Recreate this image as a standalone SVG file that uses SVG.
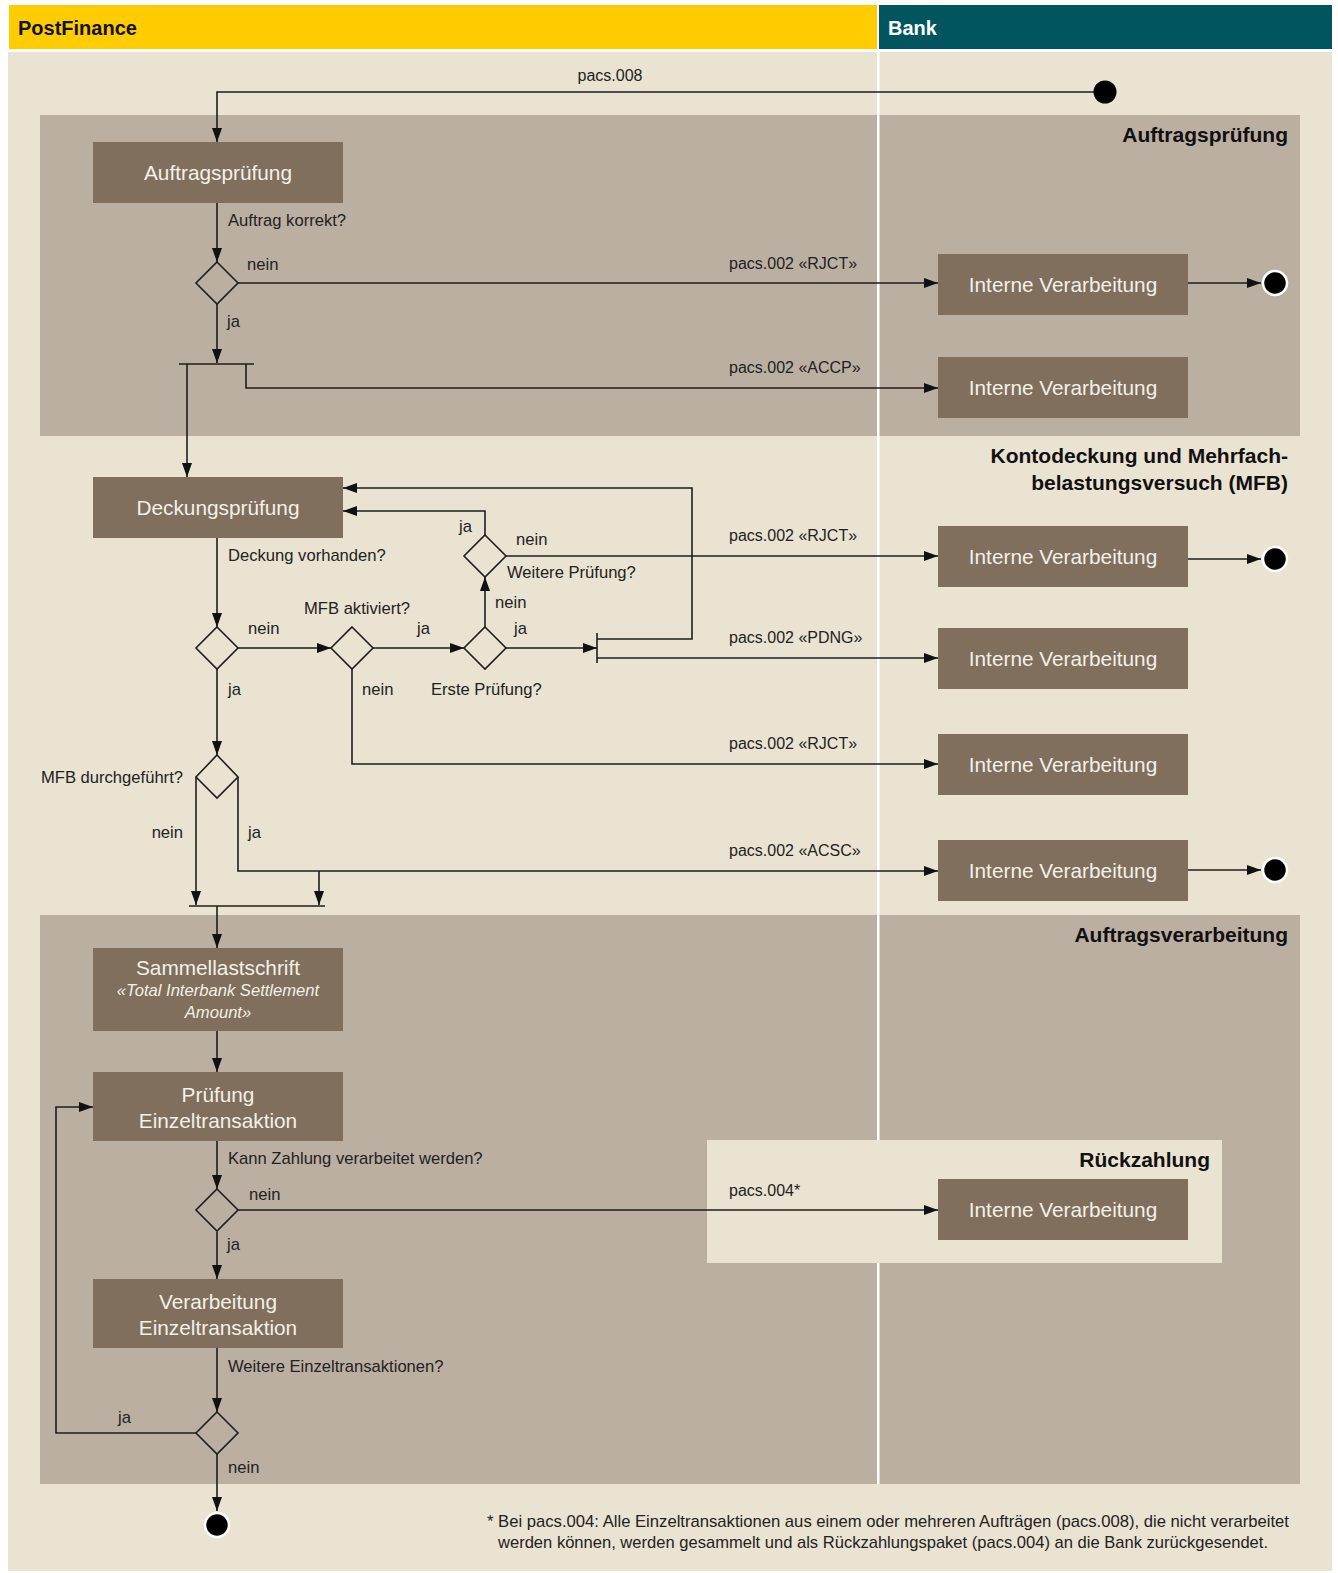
<svg xmlns="http://www.w3.org/2000/svg" width="1338" height="1573" viewBox="0 0 1338 1573">
<style>
text{font-family:"Liberation Sans",Arial,sans-serif}
.lbl{font-size:16.6px;fill:#222}
.pl{font-size:16px;fill:#222}
.box{fill:#7f6f5c}
.bt{font-size:20.8px;fill:#f4f0e8;text-anchor:middle}
.bi{font-size:16.6px;fill:#f4f0e8;text-anchor:middle;font-style:italic}
.ttl{font-weight:bold;font-size:21px;text-anchor:end;fill:#111}
.ln{fill:none;stroke:#1e1e1e;stroke-width:1.6}
.ar{marker-end:url(#ah)}
.dia{fill:none;stroke:#1e1e1e;stroke-width:1.6}
.end{fill:#000;stroke:#fff;stroke-width:2.5}
</style>
<defs>
<marker id="ah" markerWidth="14" markerHeight="10" refX="14" refY="5" orient="auto" markerUnits="userSpaceOnUse"><path d="M0,0L14,5L0,10z" fill="#111"/></marker>
</defs>
<rect x="0" y="0" width="1338" height="1573" fill="#fff"/>
<rect x="8" y="52" width="1324" height="1519" fill="#eae3d1"/>
<rect x="9" y="5" width="868" height="44" fill="#ffcc00"/>
<rect x="879" y="5" width="453" height="44" fill="#00555f"/>
<text x="18" y="35" font-size="20" font-weight="bold" fill="#111">PostFinance</text>
<text x="888" y="35" font-size="20" font-weight="bold" fill="#fff">Bank</text>
<rect x="40" y="115" width="1260" height="321" fill="#bbafa1"/>
<rect x="40" y="915" width="1260" height="569" fill="#bbafa1"/>
<rect x="877" y="49" width="2.5" height="1435" fill="#fff"/>
<rect x="707" y="1140" width="515" height="123" fill="#eae3d1"/>
<text class="ttl" x="1288" y="142">Auftragsprüfung</text>
<text class="ttl" x="1288" y="463">Kontodeckung und Mehrfach-</text>
<text class="ttl" x="1288" y="490">belastungsversuch (MFB)</text>
<text class="ttl" x="1288" y="942">Auftragsverarbeitung</text>
<text class="ttl" x="1210" y="1167">Rückzahlung</text>

<g id="connectors">
<path class="ln ar" d="M1105,92H217V142"/>
<path class="ln ar" d="M217,203V262"/>
<path class="ln ar" d="M238,283H938"/>
<path class="ln ar" d="M1188,283H1261"/>
<path class="ln ar" d="M217,304V363"/>
<path class="ln" d="M179,364H254"/>
<path class="ln ar" d="M187,364V477"/>
<path class="ln ar" d="M246,364V388H938"/>
<path class="ln ar" d="M217,538V627"/>
<path class="ln ar" d="M238,648H331"/>
<path class="ln ar" d="M373,648H464"/>
<path class="ln ar" d="M506,648H597"/>
<path class="ln" d="M597,633V663"/>
<path class="ln ar" d="M597,639H692V488H343"/>
<path class="ln ar" d="M597,658H938"/>
<path class="ln ar" d="M485,627V577"/>
<path class="ln ar" d="M485,535V511H343"/>
<path class="ln ar" d="M506,556H938"/>
<path class="ln ar" d="M1188,559H1261"/>
<path class="ln ar" d="M352,669V764H938"/>
<path class="ln ar" d="M217,669V755"/>
<path class="ln ar" d="M196,777V905"/>
<path class="ln ar" d="M238,777V871H938"/>
<path class="ln ar" d="M319,871V905"/>
<path class="ln" d="M189,906H325"/>
<path class="ln ar" d="M217,906V948"/>
<path class="ln ar" d="M1188,870H1261"/>
<path class="ln ar" d="M217,1031V1072"/>
<path class="ln ar" d="M217,1141V1189"/>
<path class="ln ar" d="M238,1210H938"/>
<path class="ln ar" d="M217,1232V1279"/>
<path class="ln ar" d="M217,1348V1412"/>
<path class="ln ar" d="M196,1433H56V1107H93"/>
<path class="ln ar" d="M217,1454V1511"/>
</g>

<g id="labels">
<text class="pl" x="610" y="81" text-anchor="middle">pacs.008</text>
<text class="lbl" x="228" y="226">Auftrag korrekt?</text>
<text class="lbl" x="247" y="270">nein</text>
<text class="lbl" x="227" y="327">ja</text>
<text class="pl" x="729" y="269">pacs.002 «RJCT»</text>
<text class="pl" x="729" y="373">pacs.002 «ACCP»</text>
<text class="lbl" x="228" y="561">Deckung vorhanden?</text>
<text class="lbl" x="459" y="532">ja</text>
<text class="lbl" x="516" y="545">nein</text>
<text class="lbl" x="507" y="578">Weitere Prüfung?</text>
<text class="pl" x="729" y="541">pacs.002 «RJCT»</text>
<text class="lbl" x="495" y="608">nein</text>
<text class="lbl" x="304" y="614">MFB aktiviert?</text>
<text class="lbl" x="248" y="634">nein</text>
<text class="lbl" x="417" y="634">ja</text>
<text class="lbl" x="514" y="634">ja</text>
<text class="pl" x="729" y="643">pacs.002 «PDNG»</text>
<text class="lbl" x="228" y="695">ja</text>
<text class="lbl" x="362" y="695">nein</text>
<text class="lbl" x="431" y="695">Erste Prüfung?</text>
<text class="pl" x="729" y="749">pacs.002 «RJCT»</text>
<text class="lbl" x="183" y="783" text-anchor="end">MFB durchgeführt?</text>
<text class="lbl" x="183" y="838" text-anchor="end">nein</text>
<text class="lbl" x="248" y="838">ja</text>
<text class="pl" x="729" y="856">pacs.002 «ACSC»</text>
<text class="lbl" x="228" y="1164">Kann Zahlung verarbeitet werden?</text>
<text class="lbl" x="249" y="1200">nein</text>
<text class="pl" x="729" y="1196">pacs.004*</text>
<text class="lbl" x="227" y="1250">ja</text>
<text class="lbl" x="228" y="1372">Weitere Einzeltransaktionen?</text>
<text class="lbl" x="118" y="1423">ja</text>
<text class="lbl" x="228" y="1473">nein</text>
<text class="lbl" x="487" y="1527" textLength="802" lengthAdjust="spacingAndGlyphs">* Bei pacs.004: Alle Einzeltransaktionen aus einem oder mehreren Aufträgen (pacs.008), die nicht verarbeitet</text>
<text class="lbl" x="498" y="1548" textLength="770" lengthAdjust="spacingAndGlyphs">werden können, werden gesammelt und als Rückzahlungspaket (pacs.004) an die Bank zurückgesendet.</text>
</g>

<g id="start"><circle cx="1105" cy="92" r="11.5" fill="#000"/></g>
<g id="auftragspruefung"><rect class="box" x="93" y="142" width="250" height="61"/><text class="bt" x="218" y="180">Auftragsprüfung</text></g>
<g id="d-korrekt"><path class="dia" d="M217,262L238,283L217,304L196,283Z"/></g>
<g id="iv1"><rect class="box" x="938" y="254" width="250" height="61"/><text class="bt" x="1063" y="292">Interne Verarbeitung</text></g>
<g id="end1"><circle class="end" cx="1275" cy="283" r="12"/></g>
<g id="iv2"><rect class="box" x="938" y="357" width="250" height="61"/><text class="bt" x="1063" y="395">Interne Verarbeitung</text></g>
<g id="deckungspruefung"><rect class="box" x="93" y="477" width="250" height="61"/><text class="bt" x="218" y="515">Deckungsprüfung</text></g>
<g id="d-weitere"><path class="dia" d="M485,535L506,556L485,577L464,556Z"/></g>
<g id="d-deckung"><path class="dia" d="M217,627L238,648L217,669L196,648Z"/></g>
<g id="d-mfb-aktiv"><path class="dia" d="M352,627L373,648L352,669L331,648Z"/></g>
<g id="d-erste"><path class="dia" d="M485,627L506,648L485,669L464,648Z"/></g>
<g id="iv3"><rect class="box" x="938" y="526" width="250" height="61"/><text class="bt" x="1063" y="564">Interne Verarbeitung</text></g>
<g id="end2"><circle class="end" cx="1275" cy="559" r="12"/></g>
<g id="iv4"><rect class="box" x="938" y="628" width="250" height="61"/><text class="bt" x="1063" y="666">Interne Verarbeitung</text></g>
<g id="iv5"><rect class="box" x="938" y="734" width="250" height="61"/><text class="bt" x="1063" y="772">Interne Verarbeitung</text></g>
<g id="d-mfb-durch"><path class="dia" d="M217,755L238,777L217,798L196,777Z"/></g>
<g id="iv6"><rect class="box" x="938" y="840" width="250" height="61"/><text class="bt" x="1063" y="878">Interne Verarbeitung</text></g>
<g id="end3"><circle class="end" cx="1275" cy="870" r="12"/></g>
<g id="sammellastschrift"><rect class="box" x="93" y="948" width="250" height="83"/><text class="bt" x="218" y="975">Sammellastschrift</text><text class="bi" x="218" y="996">«Total Interbank Settlement</text><text class="bi" x="218" y="1018">Amount»</text></g>
<g id="pruefung-et"><rect class="box" x="93" y="1072" width="250" height="69"/><text class="bt" x="218" y="1102">Prüfung</text><text class="bt" x="218" y="1128">Einzeltransaktion</text></g>
<g id="d-kann"><path class="dia" d="M217,1189L238,1210L217,1231L196,1210Z"/></g>
<g id="iv7"><rect class="box" x="938" y="1179" width="250" height="61"/><text class="bt" x="1063" y="1217">Interne Verarbeitung</text></g>
<g id="verarbeitung-et"><rect class="box" x="93" y="1279" width="250" height="69"/><text class="bt" x="218" y="1309">Verarbeitung</text><text class="bt" x="218" y="1335">Einzeltransaktion</text></g>
<g id="d-weitere-et"><path class="dia" d="M217,1412L238,1433L217,1454L196,1433Z"/></g>
<g id="end4"><circle class="end" cx="217" cy="1525" r="12"/></g>
</svg>
